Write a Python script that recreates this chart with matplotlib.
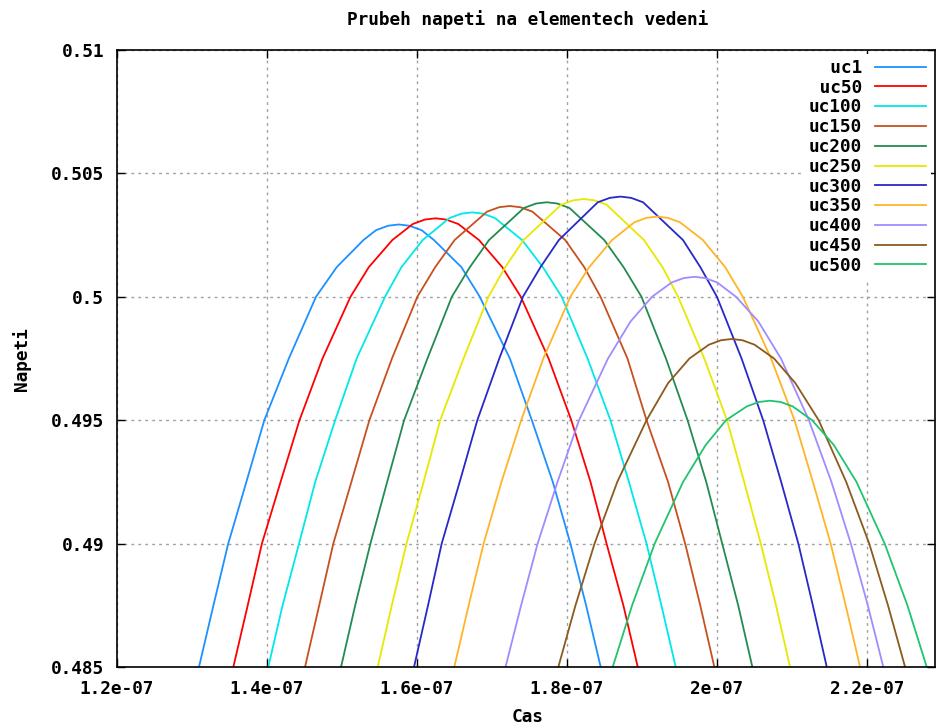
import matplotlib
matplotlib.use("Agg")
import matplotlib.pyplot as plt

plt.rcParams['font.family'] = ['DejaVu Sans Mono']
plt.rcParams['font.weight'] = 'bold'
plt.rcParams['font.size'] = 12.8

# times in ns, voltages
names = ["uc1", "uc50", "uc100", "uc150", "uc200", "uc250",
         "uc300", "uc350", "uc400", "uc450", "uc500"]
colors = ["#1e90ff", "#ff0000", "#00e8e8", "#c8501e", "#238b50", "#e8e800",
          "#2828c8", "#ffb428", "#a08cff", "#8b5a1e", "#20c46e"]

t_uc1 = [130.97, 132.90, 134.87, 137.29, 139.68, 142.95, 146.57, 149.33, 152.9, 154.58, 156.19, 157.6,
         159.01, 160.65, 162.3, 165.96, 168.41, 172.42, 175.35, 178.14, 180.49, 182.58, 184.53]
v_uc1 = [0.485, 0.4875, 0.49, 0.4925, 0.495, 0.4975, 0.5, 0.5012, 0.5023, 0.5027, 0.50288, 0.50293,
         0.50288, 0.5027, 0.5023, 0.5012, 0.5, 0.4975, 0.495, 0.4925, 0.49, 0.4875, 0.485]

t_uc50 = [135.55, 137.47, 139.36, 141.85, 144.37, 147.44, 151.17, 153.61, 156.75, 159.48, 161.10, 162.51,
          163.92, 165.54, 168.3, 171.41, 173.88, 177.58, 180.61, 183.17, 185.31, 187.55, 189.47]
v_uc50 = [0.485, 0.4875, 0.49, 0.4925, 0.495, 0.4975, 0.5, 0.5012, 0.5023, 0.50295, 0.50313, 0.50318,
          0.50313, 0.50295, 0.5023, 0.5012, 0.5, 0.4975, 0.495, 0.4925, 0.49, 0.4875, 0.485]

t_uc100 = [140.21, 142.12, 144.31, 146.47, 149.13, 151.99, 155.77, 157.96, 160.8, 164.36, 165.98, 167.4,
           168.82, 170.44, 174.05, 176.82, 179.33, 182.78, 185.83, 188.29, 190.64, 192.62, 194.53]
v_uc100 = [0.485, 0.4875, 0.49, 0.4925, 0.495, 0.4975, 0.5, 0.5012, 0.5023, 0.50319, 0.50337, 0.50342,
           0.50337, 0.50319, 0.5023, 0.5012, 0.5, 0.4975, 0.495, 0.4925, 0.49, 0.4875, 0.485]

t_uc150 = [145.11, 147.00, 148.88, 151.29, 153.69, 156.70, 160.08, 162.46, 165.05, 169.37, 170.99, 172.4,
           173.81, 175.43, 179.8, 182.34, 184.51, 188.10, 190.64, 193.51, 195.79, 197.80, 199.68]
v_uc150 = [0.485, 0.4875, 0.49, 0.4925, 0.495, 0.4975, 0.5, 0.5012, 0.5023, 0.50345, 0.50363, 0.50368,
           0.50363, 0.50345, 0.5023, 0.5012, 0.5, 0.4975, 0.495, 0.4925, 0.49, 0.4875, 0.485]

t_uc200 = [149.91, 151.80, 153.83, 156.06, 158.32, 161.43, 164.68, 167.08, 169.64, 174.30, 175.92, 177.33,
           178.74, 180.36, 185.0, 187.58, 189.97, 193.23, 196.11, 198.60, 200.73, 202.86, 204.75]
v_uc200 = [0.485, 0.4875, 0.49, 0.4925, 0.495, 0.4975, 0.5, 0.5012, 0.5023, 0.5036, 0.50378, 0.50383,
           0.50378, 0.5036, 0.5023, 0.5012, 0.5, 0.4975, 0.495, 0.4925, 0.49, 0.4875, 0.485]

t_uc250 = [154.8, 156.68, 158.64, 160.92, 163.13, 166.24, 169.56, 171.80, 174.24, 179.26, 180.88, 182.29,
           183.70, 185.32, 190.3, 192.78, 194.85, 198.34, 201.37, 203.66, 205.87, 207.90, 209.77]
v_uc250 = [0.485, 0.4875, 0.49, 0.4925, 0.495, 0.4975, 0.5, 0.5012, 0.5023, 0.50373, 0.50391, 0.50396,
           0.50391, 0.50373, 0.5023, 0.5012, 0.5, 0.4975, 0.495, 0.4925, 0.49, 0.4875, 0.485]

t_uc300 = [159.64, 161.51, 163.33, 165.73, 168.08, 171.01, 174.16, 176.50, 178.95, 184.14, 185.75, 187.16,
           188.57, 190.18, 195.5, 197.82, 200.03, 203.31, 206.19, 208.59, 210.88, 212.81, 214.67]
v_uc300 = [0.485, 0.4875, 0.49, 0.4925, 0.495, 0.4975, 0.5, 0.5012, 0.5023, 0.50383, 0.50401, 0.50406,
           0.50401, 0.50383, 0.5023, 0.5012, 0.5, 0.4975, 0.495, 0.4925, 0.49, 0.4875, 0.485]

t_uc350 = [165.01, 166.93, 168.92, 171.30, 173.93, 176.88, 180.48, 182.99, 186.05, 189.02, 190.64, 192.06,
           193.48, 195.10, 198.15, 201.13, 203.48, 207.24, 210.37, 212.82, 215.19, 217.19, 219.11]
v_uc350 = [0.485, 0.4875, 0.49, 0.4925, 0.495, 0.4975, 0.5, 0.5012, 0.5023, 0.50302, 0.5032, 0.50325,
           0.5032, 0.50302, 0.5023, 0.5012, 0.5, 0.4975, 0.495, 0.4925, 0.49, 0.4875, 0.485]

t_uc400 = [171.84, 173.92, 176.12, 178.77, 181.64, 185.50, 188.51, 191.37, 193.99, 195.61, 197.03,
           198.45, 200.07, 202.57, 205.55, 208.56, 212.29, 215.29, 217.88, 220.14, 222.21]
v_uc400 = [0.485, 0.4875, 0.49, 0.4925, 0.495, 0.4975, 0.499, 0.5, 0.50058, 0.50076, 0.50081,
           0.50076, 0.50058, 0.5, 0.499, 0.4975, 0.495, 0.4925, 0.49, 0.4875, 0.485]

t_uc450 = [178.88, 181.17, 183.71, 186.74, 190.64, 193.51, 196.36, 198.96, 200.58, 202.0,
           203.42, 205.04, 207.64, 210.49, 213.59, 217.26, 220.33, 222.83, 225.11]
v_uc450 = [0.485, 0.4875, 0.49, 0.4925, 0.495, 0.4965, 0.4975, 0.49806, 0.49824, 0.49829,
           0.49824, 0.49806, 0.4975, 0.4965, 0.495, 0.4925, 0.49, 0.4875, 0.485]

t_uc500 = [186.13, 188.72, 191.73, 195.51, 198.54, 201.24, 204.01, 205.64, 207.07,
           208.50, 210.13, 212.71, 215.60, 218.63, 222.39, 225.42, 228.0]
v_uc500 = [0.485, 0.4875, 0.49, 0.4925, 0.494, 0.495, 0.49556, 0.49574, 0.49579,
           0.49574, 0.49556, 0.495, 0.494, 0.4925, 0.49, 0.4875, 0.485]

times = [t_uc1, t_uc50, t_uc100, t_uc150, t_uc200, t_uc250,
         t_uc300, t_uc350, t_uc400, t_uc450, t_uc500]
volts = [v_uc1, v_uc50, v_uc100, v_uc150, v_uc200, v_uc250,
         v_uc300, v_uc350, v_uc400, v_uc450, v_uc500]

xticks = [1.2e-07, 1.4e-07, 1.6e-07, 1.8e-07, 2e-07, 2.2e-07]
xtick_labels = ["1.2e-07", "1.4e-07", "1.6e-07", "1.8e-07", "2e-07", "2.2e-07"]
yticks = [0.485, 0.49, 0.495, 0.5, 0.505, 0.51]
ytick_labels = ["0.485", "0.49", "0.495", "0.5", "0.505", "0.51"]

W, H = 936, 725
fig = plt.figure(figsize=(W / 100, H / 100), dpi=100)
ax = fig.add_axes([116.7 / W, 58 / H, (935 - 116.7) / W, 617 / H])

for name, col, t, v in zip(names, colors, times, volts):
    ax.plot([x * 1e-9 for x in t], v, color=col, lw=1.3, label=f"{name:>5}")

ax.set_xlim(120e-9, 229.1e-9)
ax.set_ylim(0.485, 0.51)
ax.set_xticks(xticks)
ax.set_xticklabels(xtick_labels)
ax.set_yticks(yticks)
ax.set_yticklabels(ytick_labels)
ax.tick_params(direction='in', length=6, width=1, top=True, right=True, pad=9)
ax.grid(True, color='#a0a0a0', linestyle=(0, (2, 3)), linewidth=1.0)
for s in ax.spines.values():
    s.set_linewidth(1.2)

fig.text(528 / W, 1 - 20 / H, "Prubeh napeti na elementech vedeni", ha='center', va='center')
fig.text(528 / W, 1 - 717 / H, "Cas", ha='center', va='center')
fig.text(22 / W, 1 - 359 / H, "Napeti", ha='center', va='center', rotation=90)

ax.legend(loc='upper right', frameon=True, facecolor='white', edgecolor='none',
          framealpha=1, fancybox=False, markerfirst=False, handlelength=2.9,
          handletextpad=0.7, labelspacing=0.1, borderaxespad=0.2, borderpad=0.3)

fig.savefig("out.png", dpi=100)
